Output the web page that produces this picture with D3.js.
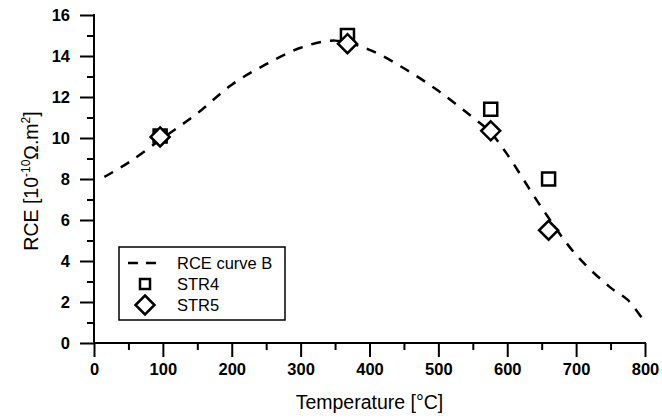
<!DOCTYPE html>
<html><head><meta charset="utf-8">
<script src="https://cdn.jsdelivr.net/npm/d3@7"></script>
<style>body{margin:0;background:#fff}svg{display:block}
.tick text{font-family:'Liberation Sans',Arial,sans-serif;font-weight:700;font-size:16.5px}</style>
</head><body>
<svg id="c" width="662" height="418"></svg>
<script>
const curveX = [15, 50, 100, 150, 200, 250, 300, 350, 400, 450, 500, 550, 575, 600, 650, 700, 750, 775, 800];
const curveY = [8.1, 8.8, 10.0, 11.2, 12.6, 13.6, 14.4, 14.75, 14.3, 13.4, 12.3, 11.0, 10.3, 9.2, 6.6, 4.3, 2.7, 2.1, 1.0];
const str4X = [96, 368, 576, 660];
const str4Y = [10.1, 15.0, 11.4, 8.0];
const str5X = [96, 368, 576, 660];
const str5Y = [10.05, 14.6, 10.35, 5.5];
const xTicks = [0, 100, 200, 300, 400, 500, 600, 700, 800];
const yTicks = [0, 2, 4, 6, 8, 10, 12, 14, 16];
const legendLabels = ["RCE curve B", "STR4", "STR5"];

const svg = d3.select("#c");
const x = d3.scaleLinear().domain([0, 800]).range([94, 645]);
const y = d3.scaleLinear().domain([0, 16]).range([343, 15]);

const font = "'Liberation Sans', Arial, sans-serif";

// axes
const xAxis = d3.axisBottom(x).tickValues(xTicks).tickSize(14).tickPadding(6).tickFormat(d3.format("d"));
const gx = svg.append("g").attr("transform", "translate(0,343)").call(xAxis);
const xMinor = d3.axisBottom(x).tickValues(d3.range(50, 800, 100)).tickSize(7).tickFormat("");
svg.append("g").attr("transform", "translate(0,343)").call(xMinor).select(".domain").remove();

const yAxis = d3.axisLeft(y).tickValues(yTicks).tickSize(14).tickPadding(10).tickFormat(d3.format("d"));
const gy = svg.append("g").attr("transform", "translate(94,0)").call(yAxis);
const yMinor = d3.axisLeft(y).tickValues(d3.range(1, 16, 2)).tickSize(7).tickFormat("");
svg.append("g").attr("transform", "translate(94,0)").call(yMinor).select(".domain").remove();

svg.selectAll(".tick line").attr("stroke", "#000").attr("stroke-width", 2);
gx.select(".domain").remove();
gy.select(".domain").remove();
svg.append("line").attr("x1", x(0)).attr("x2", x(800) + 1).attr("y1", y(0)).attr("y2", y(0)).attr("stroke", "#000").attr("stroke-width", 2);
svg.append("line").attr("x1", x(0)).attr("x2", x(0)).attr("y1", y(16) - 1).attr("y2", y(0)).attr("stroke", "#000").attr("stroke-width", 2);

gx.attr("font-family", font).attr("font-size", 16.5).attr("font-weight", "bold");
gy.attr("font-family", font).attr("font-size", 16.5).attr("font-weight", "bold");
svg.selectAll(".tick text").attr("fill", "#000").attr("font-weight", "bold");

// axis titles
svg.append("text").attr("x", (x(0) + x(800)) / 2).attr("y", 409).attr("text-anchor", "middle")
  .style("font-family", font).style("font-size", "19.5px").text("Temperature [°C]");
const yl = svg.append("text").attr("transform", "translate(38,181) rotate(-90)").attr("text-anchor", "middle")
  .style("font-family", font).style("font-size", "19.5px");
yl.append("tspan").text("RCE [10");
yl.append("tspan").attr("dy", -8).style("font-size", "12px").text("-10");
yl.append("tspan").attr("dy", 8).text("Ω.m");
yl.append("tspan").attr("dy", -8).style("font-size", "12px").text("2");
yl.append("tspan").attr("dy", 8).text("]");

// curve
const pts = curveX.map((d, i) => [d, curveY[i]]);
svg.append("path").datum(pts)
  .attr("d", d3.line().x(d => x(d[0])).y(d => y(d[1])).curve(d3.curveCatmullRom))
  .attr("fill", "none").attr("stroke", "#000").attr("stroke-width", 2.5).attr("stroke-dasharray", "10,9");

// markers
const sq = d3.symbol().type(d3.symbolSquare).size(170);
const dm = (s) => `M0,${-s}L${s},0L0,${s}L${-s},0Z`;
svg.selectAll(".s4").data(str4X.map((d, i) => [d, str4Y[i]])).enter().append("path")
  .attr("transform", d => `translate(${x(d[0])},${y(d[1])})`).attr("d", sq)
  .attr("fill", "none").attr("stroke", "#000").attr("stroke-width", 2.5);
svg.selectAll(".s5").data(str5X.map((d, i) => [d, str5Y[i]])).enter().append("path")
  .attr("transform", d => `translate(${x(d[0])},${y(d[1])})`).attr("d", dm(9.5))
  .attr("fill", "#fff").attr("stroke", "#000").attr("stroke-width", 2.5);

// legend
const lg = svg.append("g");
lg.append("rect").attr("x", 119).attr("y", 247).attr("width", 166).attr("height", 73)
  .attr("fill", "#fff").attr("stroke", "#000").attr("stroke-width", 1.5);
lg.append("line").attr("x1", 128).attr("x2", 162).attr("y1", 263).attr("y2", 263)
  .attr("stroke", "#000").attr("stroke-width", 2.5).attr("stroke-dasharray", "10,8");
lg.append("path").attr("transform", "translate(145,284)").attr("d", d3.symbol().type(d3.symbolSquare).size(100))
  .attr("fill", "none").attr("stroke", "#000").attr("stroke-width", 2.5);
lg.append("path").attr("transform", "translate(145,305)").attr("d", dm(9.5))
  .attr("fill", "#fff").attr("stroke", "#000").attr("stroke-width", 2.5);
legendLabels.forEach((t, i) => {
  lg.append("text").attr("x", 177).attr("y", 269 + i * 21)
    .style("font-family", font).style("font-size", "16.5px").text(t);
});
</script>
</body></html>
